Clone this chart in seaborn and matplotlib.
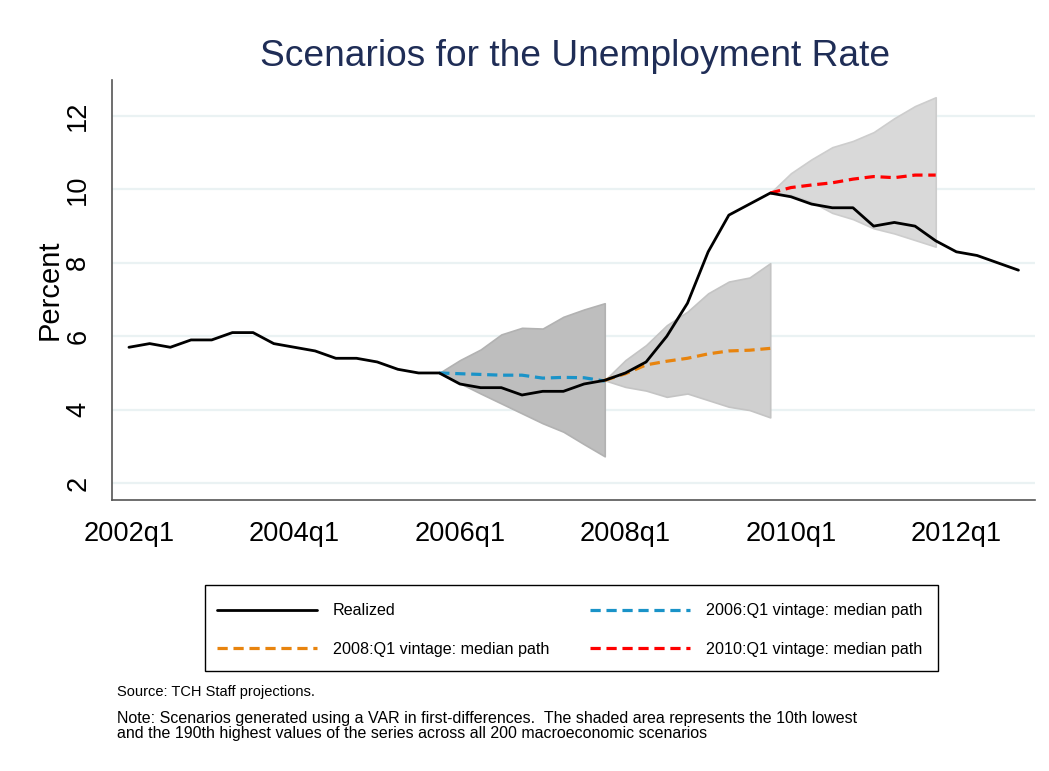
import matplotlib
matplotlib.use("Agg")
import matplotlib.pyplot as plt
from matplotlib.patches import Rectangle
import seaborn as sns
import pandas as pd

# quarterly index 2002q1 .. 2012q4
years = list(range(2002, 2013))
quarters = [f"{y}q{q}" for y in years for q in range(1, 5)]

realized = [5.7, 5.8, 5.7, 5.9, 5.9, 6.1, 6.1, 5.8, 5.7, 5.6, 5.4, 5.4,
            5.3, 5.1, 5.0, 5.0, 4.7, 4.6, 4.6, 4.4, 4.5, 4.5, 4.7, 4.8,
            5.0, 5.3, 6.0, 6.9, 8.3, 9.3, 9.6, 9.9, 9.8, 9.6, 9.5, 9.5,
            9.0, 9.1, 9.0, 8.6, 8.3, 8.2, 8.0, 7.8]

# 2006:Q1 vintage (starts at 2005q4)
v06_start = "2005q4"
v06_med = [5.0, 4.98, 4.96, 4.94, 4.94, 4.86, 4.88, 4.87, 4.78]
v06_lo = [5.0, 4.72, 4.44, 4.17, 3.90, 3.63, 3.40, 3.06, 2.73]
v06_hi = [5.0, 5.35, 5.64, 6.05, 6.23, 6.21, 6.53, 6.73, 6.90]

# 2008:Q1 vintage (starts at 2007q4)
v08_start = "2007q4"
v08_med = [4.8, 4.98, 5.22, 5.32, 5.40, 5.52, 5.60, 5.62, 5.67]
v08_lo = [4.8, 4.62, 4.52, 4.35, 4.44, 4.26, 4.08, 3.99, 3.79]
v08_hi = [4.8, 5.35, 5.76, 6.30, 6.67, 7.17, 7.49, 7.60, 7.99]

# 2010:Q1 vintage (starts at 2009q4)
v10_start = "2009q4"
v10_med = [9.9, 10.05, 10.12, 10.18, 10.28, 10.35, 10.32, 10.39, 10.39]
v10_lo = [9.9, 9.85, 9.66, 9.36, 9.19, 8.94, 8.80, 8.62, 8.44]
v10_hi = [9.9, 10.44, 10.82, 11.15, 11.32, 11.56, 11.94, 12.27, 12.51]

xticks = ["2002q1", "2004q1", "2006q1", "2008q1", "2010q1", "2012q1"]
yticks = [2, 4, 6, 8, 10, 12]

sns.set_style("white")
plt.rcParams['font.family'] = ['Liberation Sans', 'DejaVu Sans']
plt.rcParams['text.color'] = 'black'
plt.rcParams['lines.dashed_pattern'] = [3.2, 1.8]

fig = plt.figure(figsize=(10.49, 7.71), dpi=100)
ax = fig.add_axes([112/1049, 1-500/771, 923/1049, 420/771])

pos = {q: i for i, q in enumerate(quarters)}
df_real = pd.DataFrame({"t": range(len(realized)), "rate": realized})


def vintage(start, med, lo, hi):
    s = pos[start]
    return pd.DataFrame({"t": range(s, s + len(med)), "med": med, "lo": lo, "hi": hi})


v06 = vintage(v06_start, v06_med, v06_lo, v06_hi)
v08 = vintage(v08_start, v08_med, v08_lo, v08_hi)
v10 = vintage(v10_start, v10_med, v10_lo, v10_hi)

# shaded bands
ax.fill_between(v08["t"], v08["lo"], v08["hi"], color="#D0D0D0", edgecolor="#C4C4C4", lw=1.2, zorder=1)
ax.fill_between(v10["t"], v10["lo"], v10["hi"], color="#D9D9D9", edgecolor="#CDCDCD", lw=1.2, zorder=1)
ax.fill_between(v06["t"], v06["lo"], v06["hi"], color="#BEBEBE", edgecolor="#B2B2B2", lw=1.2, zorder=1.1)

sns.lineplot(data=v06, x="t", y="med", ax=ax, color="#1A93C8", linestyle="--", lw=2.3, label="2006:Q1 vintage: median path", zorder=3)
sns.lineplot(data=v08, x="t", y="med", ax=ax, color="#E8840E", linestyle="--", lw=2.3, label="2008:Q1 vintage: median path", zorder=3)
sns.lineplot(data=v10, x="t", y="med", ax=ax, color="#FF0000", linestyle="--", lw=2.3, label="2010:Q1 vintage: median path", zorder=3)
sns.lineplot(data=df_real, x="t", y="rate", ax=ax, color="black", lw=2.0, label="Realized", zorder=4)

ax.set_xlim(-0.82, 43.8)
ax.set_ylim(1.54, 12.98)
ax.set_xticks([pos[q] for q in xticks])
ax.set_xticklabels(xticks, fontsize=19.6)
ax.set_yticks(yticks)
ax.set_yticklabels([str(v) for v in yticks], fontsize=19.6, rotation=90, va="center")
ax.tick_params(axis="both", direction="out", length=8, width=1.1, color="#333333",
               labelcolor="black", pad=7)
ax.yaxis.grid(True, color="#EAF2F3", lw=1.6)
ax.xaxis.grid(False)
ax.set_axisbelow(True)
for s in ["top", "right"]:
    ax.spines[s].set_visible(False)
for s in ["left", "bottom"]:
    ax.spines[s].set_color("#555555")
    ax.spines[s].set_linewidth(1.2)
ax.set_xlabel("")
ax.set_ylabel("Percent", fontsize=21, color="black")
ax.yaxis.set_label_coords(-0.052, 0.5)

fig.text(575/1049, 1-56/771, "Scenarios for the Unemployment Rate", fontsize=26.7,
         color="#1F2D56", ha="center", va="center")

# legend box drawn separately, entries placed inside it
fig.patches.append(Rectangle((205/1049, 1-671/771), 733/1049, 86/771, transform=fig.transFigure,
                             fill=False, edgecolor="black", lw=1.0))
h, l = ax.get_legend_handles_labels()
order = [3, 1, 0, 2]
ax.get_legend().remove()
fig.legend([h[i] for i in order], [l[i] for i in order], ncol=2,
           loc="upper left", bbox_to_anchor=(217/1049, 1-604/771, 705/1049, 0.001),
           mode="expand", fontsize=11.6, frameon=False, borderpad=0, borderaxespad=0,
           labelspacing=1.45, handlelength=6.2, handletextpad=1.0)

fig.text(117/1049, 1-692/771, "Source: TCH Staff projections.", fontsize=10.5, va="center")
fig.text(117/1049, 1-726/771,
         "Note: Scenarios generated using a VAR in first-differences.  The shaded area represents the 10th lowest\n"
         "and the 190th highest values of the series across all 200 macroeconomic scenarios",
         fontsize=11.5, va="center", linespacing=0.95)

fig.savefig("out.png", dpi=100)
